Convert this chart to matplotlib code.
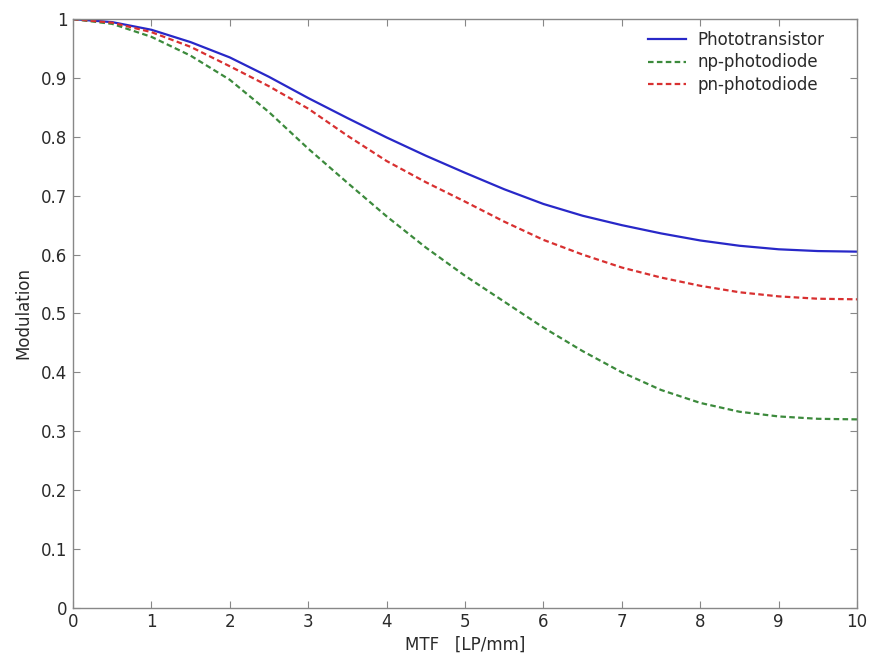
import matplotlib
matplotlib.use("Agg")
import matplotlib.pyplot as plt

x = [0, 0.5, 1, 1.5, 2, 2.5, 3, 3.5, 4, 4.5, 5, 5.5, 6, 6.5, 7, 7.5, 8, 8.5, 9, 9.5, 10]
phototransistor = [1.0, 0.995, 0.982, 0.961, 0.935, 0.902, 0.866, 0.832, 0.799, 0.768, 0.739, 0.711, 0.686, 0.666, 0.650, 0.636, 0.624, 0.615, 0.609, 0.606, 0.605]
np_photodiode = [1.0, 0.992, 0.970, 0.938, 0.897, 0.842, 0.780, 0.722, 0.665, 0.612, 0.564, 0.520, 0.476, 0.436, 0.400, 0.370, 0.348, 0.333, 0.325, 0.321, 0.320]
pn_photodiode = [1.0, 0.994, 0.978, 0.953, 0.920, 0.886, 0.848, 0.802, 0.759, 0.723, 0.690, 0.656, 0.625, 0.600, 0.578, 0.561, 0.547, 0.536, 0.529, 0.525, 0.524]
labels = ["Phototransistor", "np-photodiode", "pn-photodiode"]
xticks = [0, 1, 2, 3, 4, 5, 6, 7, 8, 9, 10]
yticks = [0, 0.1, 0.2, 0.3, 0.4, 0.5, 0.6, 0.7, 0.8, 0.9, 1]
yticklabels = ["0", "0.1", "0.2", "0.3", "0.4", "0.5", "0.6", "0.7", "0.8", "0.9", "1"]

plt.rcParams['font.family'] = ['DejaVu Sans']
txtc = '#2a2a2a'
fig = plt.figure(figsize=(8.71, 6.61), dpi=100)
ax = fig.add_axes([0.0838, 0.0806, 0.9002, 0.8904])

ax.plot(x, phototransistor, color='#2828c8', lw=1.6, label=labels[0])
ax.plot(x, np_photodiode, color='#3c8a3c', lw=1.6, dashes=(2.5, 1.5), label=labels[1])
ax.plot(x, pn_photodiode, color='#d83030', lw=1.6, dashes=(2.5, 1.5), label=labels[2])

ax.set_xlim(0, 10)
ax.set_ylim(0, 1)
ax.set_xticks(xticks)
ax.set_xticklabels([str(t) for t in xticks])
ax.set_yticks(yticks)
ax.set_yticklabels(yticklabels)
ax.tick_params(direction='in', length=5, width=0.8, color='#888888',
               top=True, right=True, labelsize=12, labelcolor=txtc, pad=4)
for s in ax.spines.values():
    s.set_color('#888888')
    s.set_linewidth(1.0)

ax.set_xlabel("MTF   [LP/mm]", fontsize=12, color=txtc, labelpad=3)
ax.set_ylabel("Modulation", fontsize=12, color=txtc, labelpad=6)

leg = ax.legend(loc='upper right', frameon=False, fontsize=12, handlelength=2.3,
                handletextpad=0.7, labelspacing=0.25, bbox_to_anchor=(0.978, 1.005))
for t in leg.get_texts():
    t.set_color(txtc)

fig.savefig("out.png", dpi=100)
